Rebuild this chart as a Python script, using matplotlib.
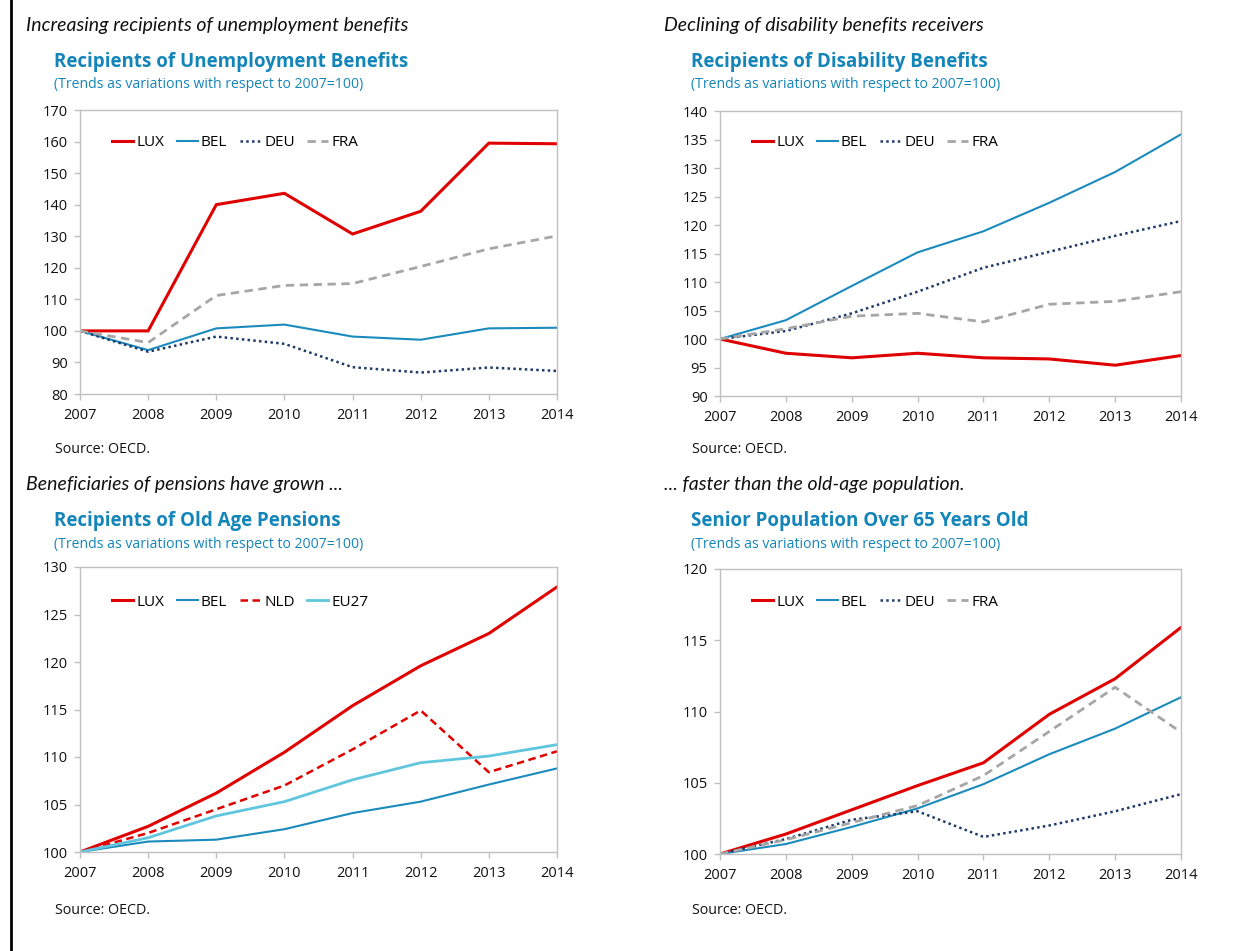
import matplotlib
matplotlib.use("Agg")
import matplotlib.pyplot as plt
from matplotlib.lines import Line2D

plt.rcParams['font.family'] = ['Open Sans', 'DejaVu Sans']

W, H = 1244, 951
years = [2007, 2008, 2009, 2010, 2011, 2012, 2013, 2014]

# Panel 1: Unemployment benefits
unemp_lux = [100, 100, 140, 143.6, 130.7, 137.9, 159.5, 159.3]
unemp_bel = [100, 93.9, 100.8, 102.0, 98.2, 97.2, 100.8, 101.0]
unemp_deu = [100, 93.4, 98.2, 95.9, 88.5, 86.8, 88.4, 87.3]
unemp_fra = [100, 96.3, 111.2, 114.4, 115.0, 120.4, 126.0, 130.1]

# Panel 2: Disability benefits
dis_lux = [100, 97.5, 96.7, 97.5, 96.7, 96.5, 95.4, 97.1]
dis_bel = [100, 103.3, 109.3, 115.2, 118.9, 123.9, 129.3, 135.9]
dis_deu = [100, 101.4, 104.5, 108.3, 112.5, 115.3, 118.1, 120.7]
dis_fra = [100, 101.8, 104.0, 104.5, 103.0, 106.1, 106.6, 108.3]

# Panel 3: Old age pensions
pen_lux = [100, 102.7, 106.2, 110.5, 115.4, 119.6, 123.0, 127.9]
pen_bel = [100, 101.1, 101.3, 102.4, 104.1, 105.3, 107.1, 108.8]
pen_nld = [100, 102.0, 104.5, 107.0, 110.8, 114.9, 108.4, 110.6]
pen_eu27 = [100, 101.5, 103.8, 105.3, 107.6, 109.4, 110.1, 111.3]

# Panel 4: Senior population
pop_lux = [100, 101.4, 103.1, 104.8, 106.4, 109.8, 112.3, 115.9]
pop_bel = [100, 100.7, 101.9, 103.2, 104.9, 107.0, 108.8, 111.0]
pop_deu = [100, 101.05, 102.4, 103.0, 101.2, 102.0, 103.0, 104.2]
pop_fra = [100, 101.0, 102.2, 103.4, 105.5, 108.6, 111.7, 108.55]

headers = ["Increasing recipients of unemployment benefits",
           "Declining of disability benefits receivers",
           "Beneficiaries of pensions have grown ...",
           "... faster than the old-age population."]
titles = ["Recipients of Unemployment Benefits",
          "Recipients of Disability Benefits",
          "Recipients of Old Age Pensions",
          "Senior Population Over 65 Years Old"]
subtitle = "(Trends as variations with respect to 2007=100)"
source = "Source: OECD."

RED = '#e00000'
BLUE = '#1b8bbd'
NAVY = '#1f3a68'
GRAY = '#a6a6a6'
LBLUE = '#5fc6de'
TBLUE = '#1385b8'
FRAME = '#c0c0c0'

styles = {
    'LUX': dict(color=RED, lw=2.2, ls='-'),
    'BEL': dict(color=BLUE, lw=1.5, ls='-'),
    'DEU': dict(color=NAVY, lw=1.8, ls=(0, (1, 1.3))),
    'FRA': dict(color=GRAY, lw=2.0, ls=(0, (3, 2))),
    'NLD': dict(color=RED, lw=1.8, ls=(0, (3, 1.8))),
    'EU27': dict(color=LBLUE, lw=2.0, ls='-'),
}

fig = plt.figure(figsize=(W / 100, H / 100), dpi=100)

# left border line
fig.add_artist(Line2D([11 / W, 11 / W], [0, 1], color='black', lw=2, transform=fig.transFigure))


def px(x, y):
    return x / W, 1 - y / H


def make_panel(box, leg_px, ylim, ystep, series, names, header, title, hx, header_y, title_x, title_y, src_y):
    l, r, t, b = box
    ax = fig.add_axes([l / W, 1 - b / H, (r - l) / W, (b - t) / H])
    for name, vals in zip(names, series):
        st = styles[name]
        ax.plot(years, vals, color=st['color'], lw=st['lw'], ls=st['ls'], label=name,
                solid_joinstyle='miter', dash_capstyle='butt')
    ax.set_xlim(years[0], years[-1])
    ax.set_ylim(*ylim)
    ax.set_xticks(years)
    ax.set_yticks(range(ylim[0], ylim[1] + 1, ystep))
    for s in ax.spines.values():
        s.set_color(FRAME)
        s.set_linewidth(1.0)
    ax.tick_params(axis='both', colors=FRAME, labelcolor='#111111', labelsize=10.5, length=4, width=1)
    ax.tick_params(axis='x', pad=6)
    ax.tick_params(axis='y', pad=5)
    leg_y = 1 - (leg_px - t) / (b - t)
    ax.legend(ncol=4, loc='center left', bbox_to_anchor=(32 / (r - l), leg_y),
              frameon=False, fontsize=11, handlelength=1.4, handletextpad=0.2,
              columnspacing=0.8, borderaxespad=0, borderpad=0)
    fig.text(*px(hx, header_y), header, fontsize=14, style='italic', color='#111111',
             va='center', ha='left', family=['Lato', 'DejaVu Sans'])
    fig.text(*px(title_x, title_y), title, fontsize=13.5, fontweight='bold', color=TBLUE, va='center', ha='left')
    fig.text(*px(title_x, title_y + 23), subtitle, fontsize=10.1, color=TBLUE, va='center', ha='left')
    fig.text(*px(title_x + 1, src_y), source, fontsize=10.3, color='#111111', va='center', ha='left')
    return ax


make_panel((80, 557, 110, 394), 143, (80, 170), 10,
           [unemp_lux, unemp_bel, unemp_deu, unemp_fra], ['LUX', 'BEL', 'DEU', 'FRA'],
           headers[0], titles[0], 26, 25, 54, 62, 450)
make_panel((720, 1181, 111, 396), 143, (90, 140), 5,
           [dis_lux, dis_bel, dis_deu, dis_fra], ['LUX', 'BEL', 'DEU', 'FRA'],
           headers[1], titles[1], 664, 25, 691, 62, 450)
make_panel((80, 557, 567, 852), 602, (100, 130), 5,
           [pen_lux, pen_bel, pen_nld, pen_eu27], ['LUX', 'BEL', 'NLD', 'EU27'],
           headers[2], titles[2], 26, 484, 54, 521, 911)
make_panel((720, 1181, 569, 854), 602, (100, 120), 5,
           [pop_lux, pop_bel, pop_deu, pop_fra], ['LUX', 'BEL', 'DEU', 'FRA'],
           headers[3], titles[3], 664, 484, 691, 521, 911)

fig.savefig('out.png', dpi=100, facecolor='white')
